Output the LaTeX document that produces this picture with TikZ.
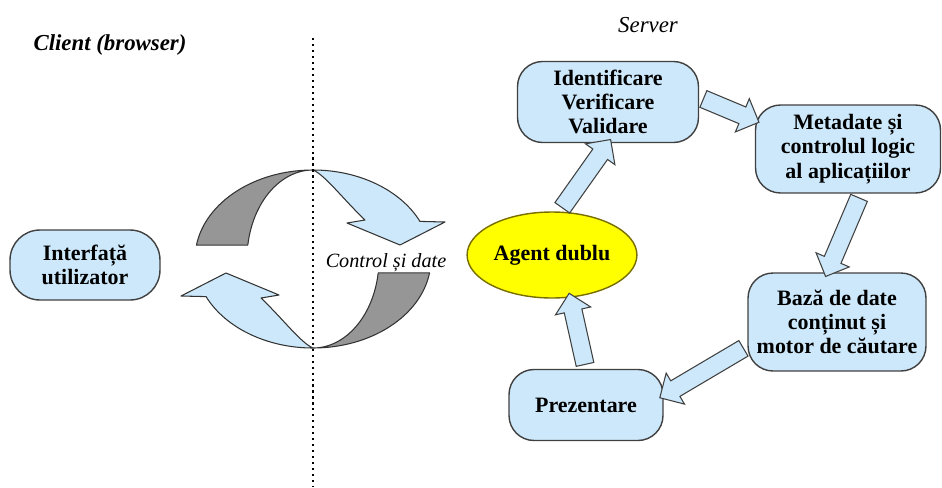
\documentclass[tikz,border=0pt]{standalone}
\usepackage{fontspec}
\setmainfont{Liberation Serif}
\usepackage{tikz}
\usetikzlibrary{shapes.geometric,shapes.arrows}
\usetikzlibrary{positioning,calc}
\definecolor{boxblue}{RGB}{204,232,250}
\definecolor{ribgray}{RGB}{150,150,150}
\definecolor{agentyellow}{RGB}{255,255,0}
\definecolor{agentline}{RGB}{120,110,0}
\newcommand{\flowarrow}[2]{%
	\path let \p1=(#1), \p2=(#2), \n1={atan2(\y2-\y1,\x2-\x1)}, \n2={veclen(\x2-\x1,\y2-\y1)} in
		node[flowarr, minimum height=\n2, rotate=\n1] at ($(#1)!0.5!(#2)$) {};}

\begin{document}
\begin{tikzpicture}[x=0.02cm,y=-0.02cm,
	box/.style={draw=black!75, line width=0.8pt, fill=boxblue, rounded corners=0.5cm, align=center, inner sep=2pt, font=\bfseries\fontsize{12.5}{13.8}\selectfont},
	flowarr/.style={single arrow, draw=black!75, line width=0.6pt, fill=boxblue, inner xsep=0pt, inner ysep=0.17cm, single arrow head extend=0.18cm, minimum width=0pt},
	ribbon/.style={draw=black!80, line width=0.6pt, line join=round},
	divider/.style={line width=1.4pt, dash pattern=on 1.2pt off 2.2pt}]
	\useasboundingbox (0,0) rectangle (942,487);
	% titles
	\node[font=\bfseries\itshape\fontsize{13}{15}\selectfont] (client) at (110,45) {Client (browser)};
	\node[font=\itshape\fontsize{13}{15}\selectfont] (server) at (648,25) {Server};
	% the two curved arrows
	\begin{scope}[shift={(313,259)}, x=0.02cm, y=0.02cm]
		\def\ro{118}
		\def\ri{66}
		\def\rv{89}
		\foreach \turn in {0,180}{
		\begin{scope}[rotate=\turn]
			\filldraw[ribbon, fill=ribgray] ({-\ro*cos(9)},{\rv*sin(9)}) arc[start angle=171, end angle=90, x radius=\ro, y radius=\rv]
				arc[start angle=90, end angle=171, x radius=\ri, y radius=\rv] -- cycle;
			\filldraw[ribbon, fill=boxblue] (0,\rv) arc[start angle=90, end angle=25, x radius=\ro, y radius=\rv]
				-- (132,37) -- (87,14) -- (34,36) -- (52,39) .. controls (30,60) and (12,84) .. (0,\rv) -- cycle;
		\end{scope}}
	\end{scope}
	\coordinate (divtop) at (313,38);
	\coordinate (divbot) at (313,487);
	\draw[divider] (divtop) -- (divbot);
	\node[font=\itshape\fontsize{11.5}{14}\selectfont] (ctrl) at (386,263) {Control și date};
	% client side
	\node[box, minimum width=3.0cm, minimum height=1.4cm, rounded corners=0.6cm] (ui) at (85,265) {Interfață\\utilizator};
	% server side
	\node[box, minimum width=3.62cm, minimum height=1.62cm] (ident) at (608,102) {Identificare\\Verificare\\Validare};
	\node[box, minimum width=3.7cm, minimum height=1.76cm] (meta) at (848,149) {Metadate și\\controlul logic\\al aplicațiilor};
	\node[box, minimum width=3.56cm, minimum height=1.96cm] (base) at (837,322) {Bază de date\\conținut și\\motor de căutare};
	\node[box, minimum width=3.08cm, minimum height=1.42cm] (prez) at (586,405) {Prezentare};
	\node[ellipse, draw=agentline, fill=agentyellow, line width=0.8pt, minimum width=3.04cm, minimum height=1.72cm, inner sep=1pt, font=\bfseries\fontsize{12.5}{13.8}\selectfont] (agent) at (552,255) {Agent dublu};
	\flowarrow{agent.80}{ident.south}
	\flowarrow{ident.3}{meta.163}
	\flowarrow{meta.286}{base.101}
	\flowarrow{base.195}{prez.7}
	\flowarrow{prez.north}{agent.293}
\end{tikzpicture}
\end{document}
